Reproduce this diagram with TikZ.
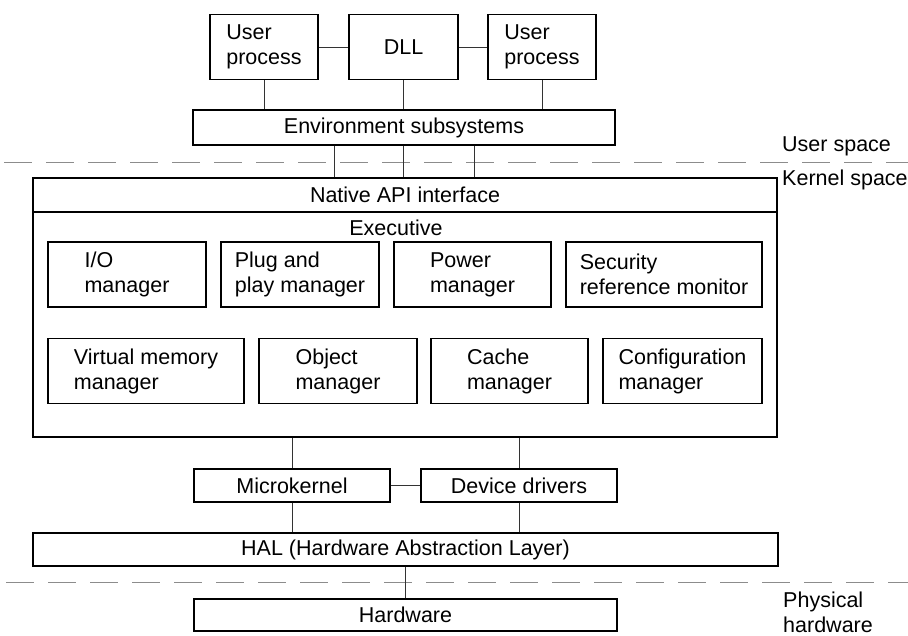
\documentclass[tikz,border=0pt]{standalone}
\usepackage{fontspec}
\setmainfont{Liberation Sans}
\usepackage{tikz}
\newcommand{\dfont}{\fontsize{21.5}{25}\selectfont}

\begin{document}
\begin{tikzpicture}[
  x=1pt, y=-1pt,
  bx/.style={draw, rectangle, align=left, font=\dfont, inner sep=0pt,
             line width=1.1pt, minimum height=65pt},
  br/.style={draw, rectangle, font=\dfont, inner sep=0pt,
             line width=1.1pt, minimum height=34pt},
  ln/.style={line width=0.8pt, black!80},
  sp/.style={line width=0.9pt, black!45, dash pattern=on 28pt off 14pt},
  lb/.style={anchor=west, align=left, font=\dfont, inner sep=0pt}]
\useasboundingbox (0,0) rectangle (908,635);
\draw[sp] (4,162) -- (908,162);
\draw[sp] (6,582) -- (908,582);
\node[bx, minimum width=108pt] (up1) at (264,47)    {User\\process};
\node[bx, minimum width=109pt] (dll) at (403.5,47)  {DLL};
\node[bx, minimum width=108pt] (up2) at (542,47)    {User\\process};
\node[br, minimum width=422pt, minimum height=35pt] (env) at (404,127.5)
  {Environment subsystems};
\node[br, minimum width=744pt] (api) at (405,195) {Native API interface};
\node[draw, line width=1.1pt, minimum width=744pt, minimum height=225pt]
  (exe) at (405,324.5) {};
\node[font=\dfont, inner sep=0pt] (exl) at (396,228) {Executive};
\node[bx, minimum width=158pt] (io)  at (127,274.5)   {I/O\\manager};
\node[bx, minimum width=158pt] (pnp) at (300,274.5)   {Plug and\\play manager};
\node[bx, minimum width=157pt] (pwr) at (472.5,274.5) {Power\\manager};
\node[bx, minimum width=196pt] (sec) at (664,274.5)   {Security\\reference monitor};
\node[bx, minimum width=196pt] (vmm) at (146,371)     {Virtual memory\\manager};
\node[bx, minimum width=158pt] (obj) at (338,371)     {Object\\manager};
\node[bx, minimum width=157pt] (cch) at (509.5,371)   {Cache\\manager};
\node[bx, minimum width=159pt] (cfg) at (682.5,371)   {Configuration\\manager};
\node[br, minimum width=196pt, minimum height=33pt] (mk)  at (292,485.5) {Microkernel};
\node[br, minimum width=196pt, minimum height=33pt] (drv) at (519,485.5) {Device drivers};
\node[br, minimum width=745pt, minimum height=33pt] (hal) at (405.5,549.5)
  {HAL (Hardware Abstraction Layer)};
\node[br, minimum width=423pt, minimum height=32pt] (hw)  at (405.5,615) {Hardware};
\node[lb] (us) at (782,146) {User space};
\node[lb] (ks) at (782,180) {Kernel space};
\node[lb] (ph) at (783,612) {Physical\\hardware};
\draw[ln] (up1) -- (dll);
\draw[ln] (dll) -- (up2);
\foreach \n in {up1,dll,up2}
  \draw[ln] (\n) -- (\n |- env.north);
\foreach \dx in {-70,-1,70}
  \draw[ln] ([xshift=\dx pt]env.south) coordinate (p) -- (p |- api.north);
\draw[ln] (mk) -- (mk |- exe.south);
\draw[ln] (drv) -- (drv |- exe.south);
\draw[ln] (mk) -- (drv);
\draw[ln] (mk) -- (mk |- hal.north);
\draw[ln] (drv) -- (drv |- hal.north);
\draw[ln] (hal) -- (hw);
\end{tikzpicture}
\end{document}
